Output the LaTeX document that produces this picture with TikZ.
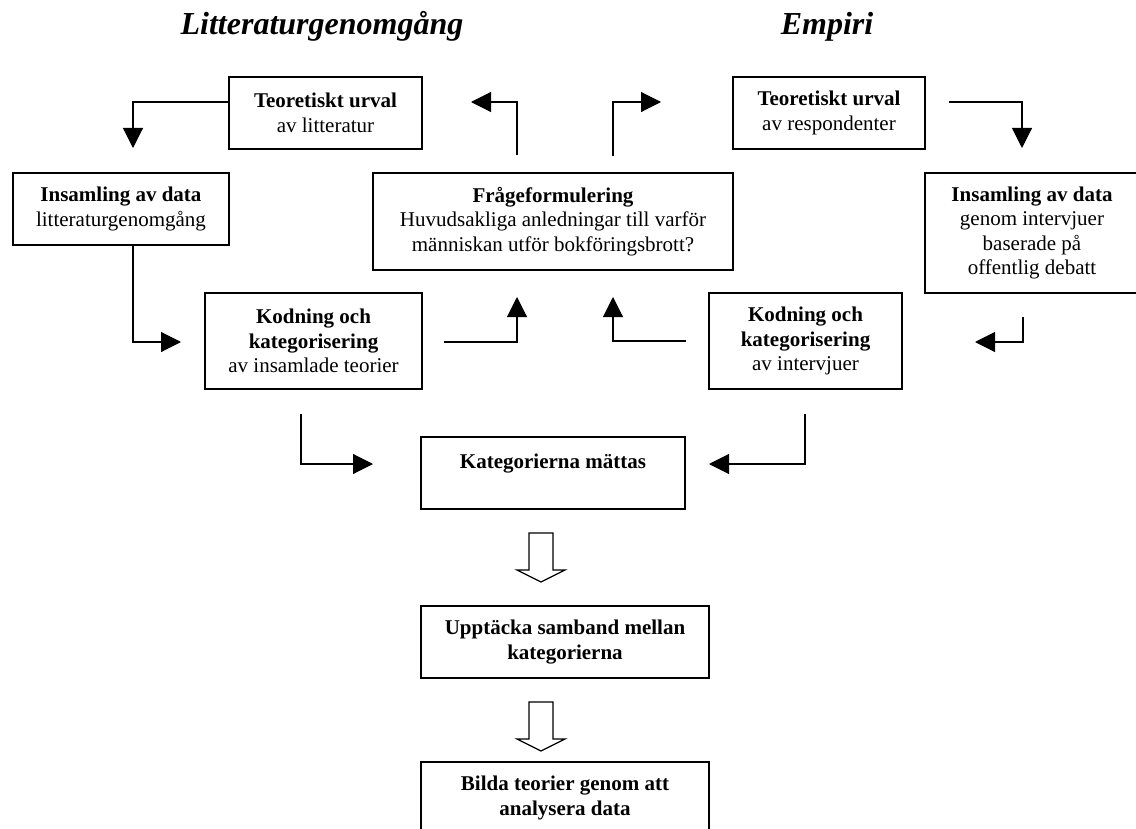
\documentclass[tikz,border=0pt]{standalone}
\usepackage{fontspec}
\setmainfont{Liberation Serif}
\usetikzlibrary{arrows.meta}

\tikzset{
  box/.style={draw, line width=0.75pt, align=center, inner sep=0pt,
    font=\fontsize{10.5}{12.25}\selectfont},
  rubrik/.style={anchor=base, font=\fontsize{16}{19}\selectfont\bfseries\itshape},
  conn/.style={line width=0.55pt, -{Triangle[length=10pt,width=10pt]}},
  hollow/.style={draw, line width=0.6pt, fill=white}
}

\begin{document}
\begin{tikzpicture}[x=0.5pt, y=-0.5pt]
    \useasboundingbox (0,0) rectangle (1136,829);
    \clip (0,0) rectangle (1136,829);

    % rubriker
    \node[rubrik] (hL) at (322,35) {Litteraturgenomgång};
    \node[rubrik] (hR) at (827,35) {Empiri};

    % rutor
    \node[box, minimum width=96.5pt, minimum height=36pt] (tL) at (325.5,113)
        {\textbf{Teoretiskt urval}\\av litteratur};
    \node[box, minimum width=108pt, minimum height=36pt] (iL) at (121,209)
        {\textbf{Insamling av data}\\litteraturgenomgång};
    \node[box, minimum width=180pt, minimum height=48.5pt] (fq) at (553,221.5)
        {\textbf{Frågeformulering}\\Huvudsakliga anledningar till varför\\människan utför bokföringsbrott?};
    \node[box, minimum width=108.5pt, minimum height=48pt] (kL) at (313.5,341)
        {\textbf{Kodning och}\\\textbf{kategorisering}\\av insamlade teorier};
    \node[box, minimum width=96pt, minimum height=36pt] (tR) at (829,113)
        {\textbf{Teoretiskt urval}\\av respondenter};
    \node[box, minimum width=107pt, minimum height=60pt] (iR) at (1032,233)
        {\textbf{Insamling av data}\\genom intervjuer\\baserade på\\offentlig debatt};
    \node[box, minimum width=96.5pt, minimum height=48pt] (kR) at (805.5,341)
        {\textbf{Kodning och}\\\textbf{kategorisering}\\av intervjuer};
    \node[box, minimum width=132pt, minimum height=36pt] (kat) at (553,473)
        {\textbf{Kategorierna mättas}\\\mbox{}};
    \node[box, minimum width=144pt, minimum height=36pt] (upp) at (565,642)
        {\textbf{Upptäcka samband mellan}\\\textbf{kategorierna}};
    \node[box, minimum width=144pt, minimum height=36pt] (bilda) at (565,798)
        {\textbf{Bilda teorier genom att}\\\textbf{analysera data}};

    % pilarnas hörn och spetsar
    \coordinate (p1) at (133,102);
    \coordinate (p1e) at (133,148);
    \coordinate (p2) at (133,342);
    \coordinate (p2e) at (181,342);
    \coordinate (p3s) at (444,342);
    \coordinate (p3) at (517,342);
    \coordinate (p3e) at (517,297);
    \coordinate (p4s) at (686,341);
    \coordinate (p4) at (613,341);
    \coordinate (p4e) at (613,297);
    \coordinate (p5s) at (517,155);
    \coordinate (p5) at (517,102);
    \coordinate (p5e) at (471,102);
    \coordinate (p6s) at (613,156);
    \coordinate (p6) at (613,102);
    \coordinate (p6e) at (661,102);
    \coordinate (p7s) at (949,102);
    \coordinate (p7) at (1022,102);
    \coordinate (p7e) at (1022,148);
    \coordinate (p8s) at (1023,317);
    \coordinate (p8) at (1023,342);
    \coordinate (p8e) at (975,342);
    \coordinate (p9s) at (301,414);
    \coordinate (p9) at (301,464);
    \coordinate (p9e) at (373,464);
    \coordinate (p10s) at (805,414);
    \coordinate (p10) at (805,464);
    \coordinate (p10e) at (709,464);

    % pilar
    \draw[conn] (tL.west |- p1) -- (p1) -- (p1e);
    \draw[conn] (iL.south -| p2) -- (p2) -- (p2e);
    \draw[conn] (p3s) -- (p3) -- (p3e);
    \draw[conn] (p4s) -- (p4) -- (p4e);
    \draw[conn] (p5s) -- (p5) -- (p5e);
    \draw[conn] (p6s) -- (p6) -- (p6e);
    \draw[conn] (p7s) -- (p7) -- (p7e);
    \draw[conn] (p8s) -- (p8) -- (p8e);
    \draw[conn] (p9s) -- (p9) -- (p9e);
    \draw[conn] (p10s) -- (p10) -- (p10e);

    % ihåliga pilar
    \foreach \y in {533,702}
        \draw[hollow] (529,\y) -- ++(24,0) -- ++(0,37) -- ++(12,0) -- ++(-24,12)
            -- ++(-24,-12) -- ++(12,0) -- cycle;
\end{tikzpicture}
\end{document}
